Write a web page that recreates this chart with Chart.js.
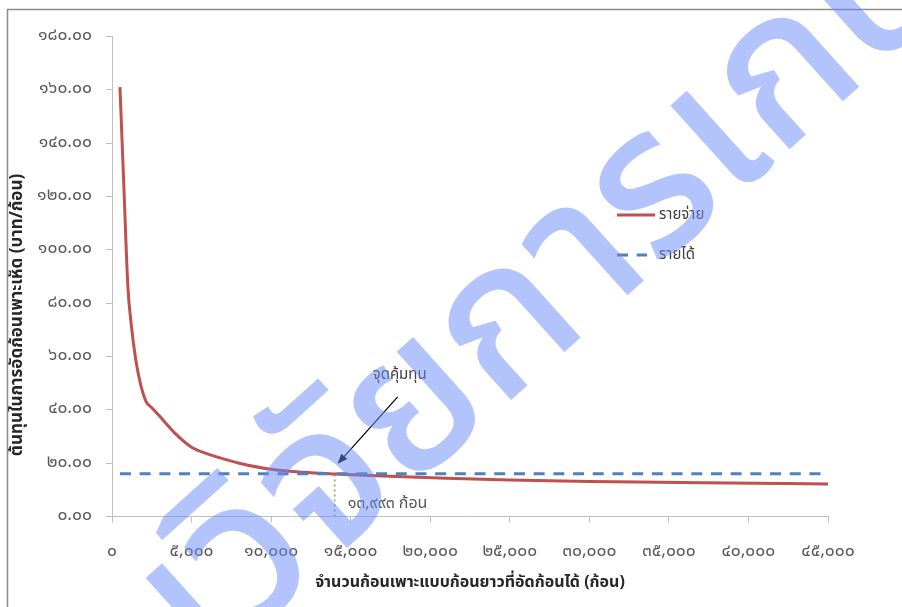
<!DOCTYPE html>
<html>
<head>
<meta charset="utf-8">
<script src="https://cdn.jsdelivr.net/npm/chart.js@4.4.1/dist/chart.umd.min.js"></script>
<style>
  html, body { margin: 0; padding: 0; background: #ffffff; }
  #wrap { position: relative; width: 902px; height: 607px; }
</style>
</head>
<body>
<div id="wrap"><canvas id="chart" width="902" height="607"></canvas></div>
<script>
// Number of long-type mushroom bags pressed (ก้อน)
const units = [500, 750, 1000, 1200, 1500, 1800, 2150, 2500, 3000, 4000, 5000, 6000, 7000, 8000, 10000, 12000, 14000, 17000, 21000, 25000, 30000, 37000, 45000];
// Cost per bag (บาท/ก้อน)
const costPerUnit = [161, 123, 86, 72.5, 58.5, 49.5, 43, 40.8, 37.6, 31, 26, 23.5, 21.6, 20, 17.7, 16.6, 15.95, 15.2, 14.35, 13.7, 13.1, 12.7, 12.2];
// Income per bag (flat selling price)
const revenueUnits = [500, 45000];
const revenuePerUnit = [16, 16];
// Break-even quantity
const breakEvenUnits = 13993;
const breakEvenPrice = 16;

const seriesNames = ['รายจ่าย', 'รายได้'];
const yTitle = 'ต้นทุนในการอัดก้อนเพาะเห็ด (บาท/ก้อน)';
const xTitle = 'จำนวนก้อนเพาะแบบก้อนยาวที่อัดก้อนได้ (ก้อน)';
const breakEvenNote = 'จุดคุ้มทุน';
const unitWord = 'ก้อน';
const watermarkText = 'งานวิจัยการเกษตร';

const THAI_DIGITS = ['๐','๑','๒','๓','๔','๕','๖','๗','๘','๙'];
const toThai = s => String(s).replace(/[0-9]/g, d => THAI_DIGITS[+d]);

const FONT = '"Noto Sans Thai", "Noto Sans", "DejaVu Sans", sans-serif';
const RED = '#c0504d';
const BLUE = '#4f81bd';
const GREEN = '#9bbb59';
const AXIS = '#bfbfbf';

const pts = (xs, ys) => xs.map((x, i) => ({ x, y: ys[i] }));

const overlay = {
  id: 'overlay',
  afterDatasetsDraw(chart) {
    const { ctx, scales: { x, y } } = chart;
    const bx = x.getPixelForValue(breakEvenUnits);
    const by = y.getPixelForValue(breakEvenPrice);

    // arrow pointing at the break-even point
    const tip = { x: bx + 3, y: by - 10 };
    const tail = { x: tip.x + 60, y: tip.y - 67 };
    const ang = Math.atan2(tip.y - tail.y, tip.x - tail.x);
    ctx.save();
    ctx.strokeStyle = '#000000';
    ctx.fillStyle = '#000000';
    ctx.lineWidth = 1.2;
    ctx.beginPath();
    ctx.moveTo(tail.x, tail.y);
    ctx.lineTo(tip.x - 6 * Math.cos(ang), tip.y - 6 * Math.sin(ang));
    ctx.stroke();
    ctx.beginPath();
    ctx.moveTo(tip.x, tip.y);
    ctx.lineTo(tip.x - 10 * Math.cos(ang) + 4 * Math.sin(ang), tip.y - 10 * Math.sin(ang) - 4 * Math.cos(ang));
    ctx.lineTo(tip.x - 10 * Math.cos(ang) - 4 * Math.sin(ang), tip.y - 10 * Math.sin(ang) + 4 * Math.cos(ang));
    ctx.closePath();
    ctx.fill();

    ctx.font = '15px ' + FONT;
    ctx.fillStyle = '#404040';
    ctx.textAlign = 'center';
    ctx.textBaseline = 'middle';
    ctx.fillText(breakEvenNote, tail.x + 2, tail.y - 21);

    ctx.textAlign = 'left';
    ctx.font = '16px ' + FONT;
    ctx.fillStyle = '#595959';
    ctx.fillText(toThai(breakEvenUnits.toLocaleString('en-US')) + ' ' + unitWord, bx + 13, y.bottom - 12);

    // legend
    ctx.font = '15px ' + FONT;
    const ds = chart.data.datasets;
    const rows = [{ d: ds[0], y: 215, len: 38 }, { d: ds[1], y: 255, len: 30 }];
    rows.forEach(r => {
      ctx.beginPath();
      ctx.strokeStyle = r.d.borderColor;
      ctx.lineWidth = 3;
      ctx.setLineDash(r.d.borderDash || []);
      ctx.moveTo(617, r.y);
      ctx.lineTo(617 + r.len, r.y);
      ctx.stroke();
      ctx.setLineDash([]);
      ctx.fillStyle = '#404040';
      ctx.fillText(r.d.label, 659, r.y + 1);
    });

    // vertical axis title
    ctx.save();
    ctx.translate(19, 315);
    ctx.rotate(-Math.PI / 2);
    ctx.textAlign = 'center';
    ctx.font = 'bold 17px ' + FONT;
    ctx.fillStyle = '#262626';
    ctx.fillText(yTitle, 0, 0);
    ctx.restore();
    ctx.restore();
  },
  afterDraw(chart) {
    const { ctx } = chart;
    ctx.save();
    // outer frame
    ctx.strokeStyle = '#8c8c8c';
    ctx.lineWidth = 1.5;
    ctx.beginPath();
    ctx.moveTo(7.5, 607);
    ctx.lineTo(7.5, 9.5);
    ctx.lineTo(902, 9.5);
    ctx.stroke();

    // watermark
    ctx.translate(500, 410);
    ctx.rotate(-42 * Math.PI / 180);
    ctx.font = '500 205px ' + FONT;
    ctx.fillStyle = 'rgba(103,135,247,0.5)';
    ctx.textBaseline = 'alphabetic';
    const w = ctx.measureText('งานวิจัย').width;
    ctx.fillText(watermarkText, -w, 0);
    ctx.restore();
  }
};

new Chart(document.getElementById('chart'), {
  type: 'line',
  data: {
    datasets: [
      {
        label: seriesNames[0],
        data: pts(units, costPerUnit),
        borderColor: RED,
        borderWidth: 3,
        pointRadius: 0,
        cubicInterpolationMode: 'monotone',
        order: 2
      },
      {
        label: seriesNames[1],
        data: pts(revenueUnits, revenuePerUnit),
        borderColor: BLUE,
        borderWidth: 3,
        borderDash: [11, 8.7],
        pointRadius: 0,
        order: 1
      },
      {
        label: 'break-even',
        data: [{ x: breakEvenUnits, y: 0 }, { x: breakEvenUnits, y: breakEvenPrice }],
        borderColor: GREEN,
        borderWidth: 2,
        borderDash: [2, 3],
        pointRadius: 0,
        order: 3
      }
    ]
  },
  options: {
    responsive: false,
    animation: false,
    layout: { padding: { top: 36.5, right: 74, bottom: 0, left: 0 } },
    plugins: { legend: { display: false }, tooltip: { enabled: false } },
    scales: {
      x: {
        type: 'linear',
        min: 0,
        max: 45000,
        ticks: {
          stepSize: 5000,
          color: '#595959',
          font: { family: FONT, size: 17.5 },
          padding: 19,
          maxRotation: 0,
          callback: v => toThai(Number(v).toLocaleString('en-US'))
        },
        grid: { drawOnChartArea: false, drawTicks: true, tickLength: 6, color: AXIS },
        border: { color: AXIS, width: 1 },
        title: {
          display: true,
          text: xTitle,
          color: '#262626',
          font: { family: FONT, size: 16, weight: 'bold' },
          padding: { top: 0, bottom: 14 }
        },
        afterFit(s) { s.height = 90.5; }
      },
      y: {
        min: 0,
        max: 180,
        ticks: {
          stepSize: 20,
          color: '#595959',
          font: { family: FONT, size: 17.5 },
          padding: 14,
          callback: v => toThai(Number(v).toFixed(2))
        },
        grid: { drawOnChartArea: false, drawTicks: true, tickLength: 6, color: AXIS },
        border: { color: AXIS, width: 1 },
        title: { display: false },
        afterFit(s) { s.width = 112; }
      }
    }
  },
  plugins: [overlay]
});
</script>
</body>
</html>
